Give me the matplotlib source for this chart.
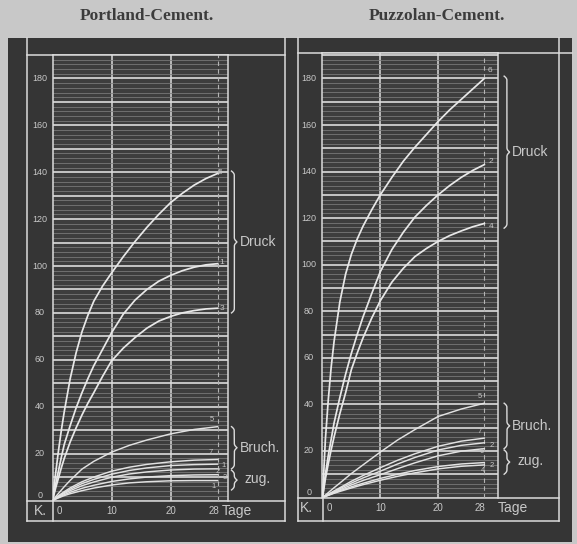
import numpy as np
import matplotlib
matplotlib.use("Agg")
import matplotlib.pyplot as plt
from matplotlib.transforms import blended_transform_factory

# --- data ----------------------------------------------------------------
days_druck = [0, 0.5, 1, 1.5, 2, 3, 4, 5, 6, 7, 8.5, 10, 12, 14, 16, 18, 20,
              22, 24, 26, 28]
days_zug = [0, 1, 2, 3, 5, 7, 10, 13, 16, 20, 24, 28]

# Portland-Cement, Druck (compression)
pc_druck_5 = [0, 11, 21, 30, 38, 52, 63, 72, 79, 85, 91.5, 97, 104, 110.5,
              116.5, 122, 127, 131, 134.5, 137.3, 139.5]
pc_druck_1 = [0, 6.5, 12.5, 18.5, 24, 32, 39.5, 46, 52, 57.5, 64.5, 71.5,
              79.5, 85.5, 90, 93.5, 96, 98, 99.5, 100.5, 101]
pc_druck_3 = [0, 5, 9.5, 14, 18, 25, 31, 36.5, 41.5, 46, 53, 59.5, 65, 69.5,
              73.5, 76.5, 78.5, 80, 81, 81.7, 82]
pc_druck_labels = ["5", "1", "3"]

# Portland-Cement, Bruch / zug
pc_bruch_5 = [0, 3, 5.9, 8.6, 13.4, 16.7, 20.6, 23.5, 25.8, 28.4, 30.3, 31.5]
pc_zug_7 = [0, 2, 3.8, 5.4, 8, 10, 12.5, 14.2, 15.4, 16.5, 17.2, 17.5]
pc_zug_1 = [0, 1.8, 3.4, 4.8, 7.2, 9, 11.2, 12.8, 13.9, 14.9, 15.3, 15.5]
pc_zug_2 = [0, 1.6, 3, 4.2, 6.3, 7.9, 9.9, 11.3, 12.2, 13, 13.4, 13.5]
pc_zug_3 = [0, 1.3, 2.5, 3.5, 5.2, 6.5, 8.1, 9.2, 10, 10.6, 10.9, 11]
pc_zug_1b = [0, 1.1, 2.1, 2.9, 4.2, 5.3, 6.6, 7.5, 8, 8.4, 8.5, 8.5]
pc_zug_labels = ["5", "7", "1", "2", "3", "1"]

# Puzzolan-Cement, Druck
pz_druck_6 = [0, 25, 42, 56, 67, 84, 96, 104.5, 111, 116.5, 123.5, 130,
              137.5, 144.5, 150.5, 156, 161.5, 166.5, 171, 175.5, 180]
pz_druck_2 = [0, 10, 18, 25, 32, 43, 53, 62, 70, 77.5, 87.5, 97, 106.5, 114,
              120.5, 125.5, 130, 134, 137.5, 140.5, 143]
pz_druck_4 = [0, 8, 14.5, 20.5, 26, 36, 45, 55, 62, 68.5, 77, 84.5, 92.5,
              98.5, 103.5, 107, 110, 112.5, 114.5, 116.3, 117.7]
pz_druck_labels = ["6", "2", "4"]

# Puzzolan-Cement, Bruch / zug
pz_bruch_5 = [0, 2.1, 4.2, 6.2, 10.3, 14, 19.5, 24.7, 29.2, 34.8, 38, 40.5]
pz_zug_7 = [0, 1.4, 2.8, 4.2, 7, 9.4, 12.8, 16, 18.8, 22, 24.2, 25.5]
pz_zug_2 = [0, 1.3, 2.6, 3.8, 6.2, 8.4, 11.3, 14.4, 17.2, 20.4, 22.4, 23.5]
pz_zug_6 = [0, 1.1, 2.2, 3.3, 5.4, 7.3, 9.8, 12.4, 14.9, 17.9, 19.9, 21]
pz_zug_2b = [0, 1, 2, 2.9, 4.6, 6.1, 8.2, 10, 11.6, 13.3, 14.4, 15]
pz_zug_4 = [0, 0.9, 1.8, 2.6, 4.1, 5.5, 7.4, 9.1, 10.6, 12.3, 13.4, 14]
pz_zug_labels = ["5", "7", "2", "6", "2", "4"]

y_labels = [0, 20, 40, 60, 80, 100, 120, 140, 160, 180]
x_labels = [0, 10, 20, 28]
titles = ["Portland-Cement.", "Puzzolan-Cement."]

# --- look ------------------------------------------------------------------
W, H = 577, 544
PAPER = "#c8c8c8"
DARK = "#353535"
PLOT_BG = "#3d3d3d"
LINE = "#dcdcdc"
TXT = "#c8c8c8"
NARROW = ["Liberation Sans Narrow", "Liberation Sans", "DejaVu Sans"]

fig = plt.figure(figsize=(W / 100, H / 100), dpi=100, facecolor=PAPER)

bg = fig.add_axes([0, 0, 1, 1], zorder=0)
bg.set_xlim(0, W)
bg.set_ylim(H, 0)
bg.axis("off")
bg.add_patch(plt.Rectangle((8, 38), 564, 504, color=DARK, lw=0))

# panel frames (pixel coordinates on the background layer)
for x in [27, 285, 298, 559]:
    bg.plot([x, x], [38, 521], color=LINE, lw=1.1)
bg.plot([27, 285], [55, 55], color=LINE, lw=1.1)
bg.plot([298, 572], [53, 53], color=LINE, lw=1.1)
bg.plot([27, 285], [500.5, 500.5], color=LINE, lw=1.1)
bg.plot([298, 559], [497.5, 497.5], color=LINE, lw=1.1)
bg.plot([27, 285], [521, 521], color=LINE, lw=1.1)
bg.plot([298, 559], [521, 521], color=LINE, lw=1.1)
bg.plot([52.5, 52.5], [500, 521], color=LINE, lw=1.1)
bg.plot([322.5, 322.5], [497, 521], color=LINE, lw=1.1)

for t, xc in zip(titles, [147, 437]):
    fig.text(xc / W, 1 - 16 / H, t, ha="center", va="center",
             family="Liberation Serif", weight="bold", fontsize=12.5,
             color="#3c3c3c")


def brace(ax, x0, y0, y1, w=0.032, e=1.8):
    tr = blended_transform_factory(ax.transAxes, ax.transData)
    y = np.linspace(y0, y1, 300)
    d = np.minimum(y - y0, y1 - y)
    m = (y0 + y1) / 2
    xs = 0.5 * w * (1 - np.clip(1 - d / e, 0, 1) ** 2)
    xs += 0.5 * w * np.clip(1 - np.abs(y - m) / e, 0, 1) ** 2
    ax.plot(x0 + xs, y, color=LINE, lw=1.0, transform=tr, clip_on=False)


def panel(box, xmax, ymax, druck, druck_lab, zug, zug_lab, ylab_x, druck_off,
          zug_off, brace_x, word_x, tage_x, k_x):
    left, top, right, bottom = box
    ax = fig.add_axes([left / W, 1 - bottom / H, (right - left) / W,
                       (bottom - top) / H], zorder=2)
    ax.set_facecolor(PLOT_BG)
    ax.set_xlim(0, xmax)
    ax.set_ylim(0, ymax)
    ax.set_yticks(np.arange(0, ymax, 10))
    ax.set_yticks(np.arange(0, ymax, 2), minor=True)
    ax.set_xticks([10, 20])
    ax.tick_params(which="both", length=0, labelleft=False, labelbottom=False)
    ax.grid(which="minor", axis="y", color="#7c7c7c", lw=0.55)
    ax.grid(which="major", axis="y", color=LINE, lw=1.2)
    ax.grid(which="major", axis="x", color=LINE, lw=1.1)
    ax.axvline(28, color="#b4b4b4", lw=0.8, ls=(0, (4, 3)))
    for s in ax.spines.values():
        s.set_color(LINE)
        s.set_linewidth(1.1)
    ax.spines["bottom"].set_visible(False)

    for vals, lab, off in zip(druck, druck_lab, druck_off):
        ax.plot(days_druck, vals, color="#e8e8e8", lw=1.25, zorder=3)
        ax.annotate(lab, (days_druck[-1], vals[-1]), xytext=off,
                    textcoords="offset points", color=TXT, fontsize=6,
                    family=NARROW, ha="center", va="center")
    for vals, lab, off in zip(zug, zug_lab, zug_off):
        ax.plot(days_zug, vals, color="#e2e2e2", lw=1.05, zorder=3)
        ax.annotate(lab, (days_zug[-1], vals[-1]), xytext=off,
                    textcoords="offset points", color=TXT, fontsize=5.5,
                    family=NARROW, ha="center", va="center")

    # y labels in the left column
    tr_y = blended_transform_factory(ax.transAxes, ax.transData)
    for v in y_labels:
        ax.text(ylab_x, v + (2 if v == 0 else 0), str(v), transform=tr_y,
                ha="center", va="center", fontsize=6.5, color=TXT,
                family=NARROW)

    # x labels in the bottom strip
    tr_x = blended_transform_factory(ax.transData, ax.transAxes)
    ypos = -10.5 / (bottom - top)
    for v in x_labels:
        dx = 5 if v == 0 else (-3 if v == 28 else 0)
        ax.annotate(str(v), (v, ypos), xycoords=tr_x, xytext=(dx, 0),
                    textcoords="offset points", ha="center", va="center",
                    fontsize=7, color=TXT, family=NARROW)
    ax.text(tage_x, ypos, "Tage", transform=ax.transAxes, ha="left",
            va="center", fontsize=10, color=TXT, family=NARROW)
    ax.text(k_x, ypos, "K.", transform=ax.transAxes, ha="center",
            va="center", fontsize=10, color=TXT, family=NARROW)

    # braces with words
    d_ends = [v[-1] for v in druck]
    z_ends = [v[-1] for v in zug]
    d_top, d_bot = max(d_ends) + 1, min(d_ends) - 2
    b_top, b_mid = z_ends[0], sorted(z_ends[1:])[2]
    z_bot = min(z_ends) - 4
    brace(ax, brace_x, d_bot, d_top)
    brace(ax, brace_x, b_mid, b_top)
    brace(ax, brace_x, z_bot, b_mid - 0.6)
    ax.text(word_x, (d_top + d_bot) / 2, "Druck", transform=tr_y,
            ha="left", va="center", fontsize=10, color=TXT, family=NARROW)
    ax.text(word_x, (b_top + b_mid) / 2, "Bruch.", transform=tr_y,
            ha="left", va="center", fontsize=10, color=TXT, family=NARROW)
    ax.text(word_x + 0.03, (b_mid + z_bot) / 2, "zug.", transform=tr_y,
            ha="left", va="center", fontsize=10, color=TXT, family=NARROW)
    return ax


panel((52.5, 55, 228, 500.5), 175.5 / 5.9, 190,
      [pc_druck_5, pc_druck_1, pc_druck_3], pc_druck_labels,
      [pc_bruch_5, pc_zug_7, pc_zug_1, pc_zug_2, pc_zug_3, pc_zug_1b],
      pc_zug_labels,
      -0.071,
      [(2, 1), (3, 1), (3, 0)],
      [(-4, 5), (-5, 5), (4, -1), (0, -2), (5, -2), (-3, -4)],
      1.02, 1.065, 0.965, -0.071)

panel((322.5, 53, 498, 497.5), 175.5 / 5.78, 444.5 / 2.328,
      [pz_druck_6, pz_druck_2, pz_druck_4], pz_druck_labels,
      [pz_bruch_5, pz_zug_7, pz_zug_2, pz_zug_6, pz_zug_2b, pz_zug_4],
      pz_zug_labels,
      -0.077,
      [(4, 6), (5, 2), (5, -2)],
      [(-3, 5), (-3, 5), (5, -2), (-2, -2), (5, -2), (-1, -4)],
      1.035, 1.08, 1.0, -0.094)

fig.savefig("out.png", dpi=100, facecolor=PAPER)
